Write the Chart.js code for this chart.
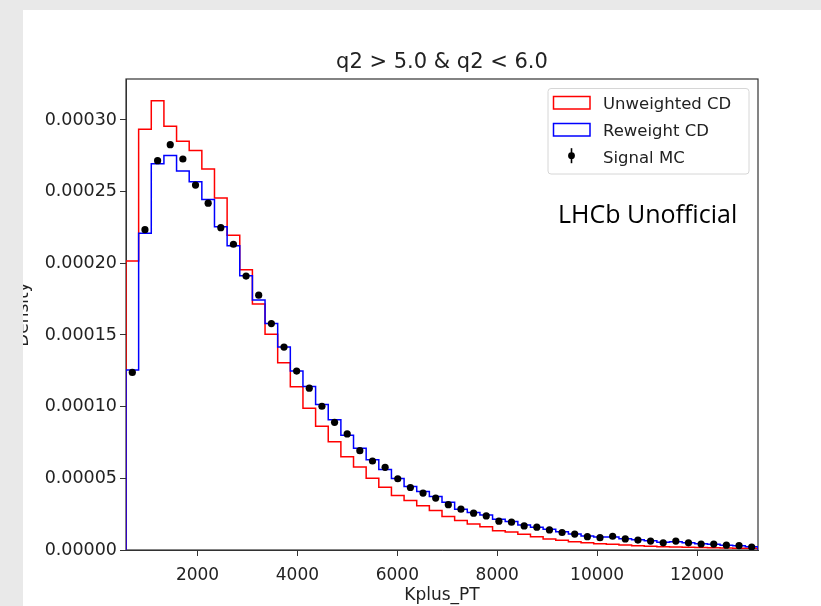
<!DOCTYPE html>
<html>
<head>
<meta charset="utf-8">
<script src="https://cdn.jsdelivr.net/npm/chart.js"></script>
<style>
  html, body { margin: 0; padding: 0; background: #e9e9e9; }
  #panel { position: absolute; left: 23px; top: 10px; width: 798px; height: 596px; background: #fff; overflow: hidden; }
  #chart { position: absolute; left: -23px; top: -10px; }
</style>
</head>
<body>
<div id="panel"><canvas id="chart" width="821" height="606"></canvas></div>
<script>
// histogram range and binning (Kplus_PT)
const xMin = 568;
const xMax = 13221;
const nBins = 50;
const yMax = 0.0003286;

// densities per bin
const unweightedCD = [
  2.016e-4, 2.935e-4, 3.134e-4, 2.956e-4, 2.851e-4, 2.788e-4, 2.658e-4, 2.455e-4, 2.196e-4, 1.955e-4,
  1.717e-4, 1.505e-4, 1.307e-4, 1.139e-4, 9.89e-5, 8.63e-5, 7.56e-5, 6.50e-5, 5.79e-5, 5.00e-5,
  4.37e-5, 3.80e-5, 3.45e-5, 3.08e-5, 2.75e-5, 2.33e-5, 2.05e-5, 1.82e-5, 1.63e-5, 1.35e-5,
  1.26e-5, 1.10e-5, 9.3e-6, 7.7e-6, 6.8e-6, 5.8e-6, 5.1e-6, 4.4e-6, 4.0e-6, 3.5e-6,
  3.0e-6, 2.6e-6, 2.3e-6, 2.1e-6, 1.9e-6, 1.7e-6, 1.5e-6, 1.4e-6, 1.3e-6, 1.2e-6
];
const reweightCD = [
  1.255e-4, 2.210e-4, 2.695e-4, 2.753e-4, 2.644e-4, 2.569e-4, 2.445e-4, 2.256e-4, 2.123e-4, 1.913e-4,
  1.745e-4, 1.580e-4, 1.416e-4, 1.248e-4, 1.141e-4, 1.015e-4, 9.08e-5, 8.00e-5, 7.10e-5, 6.30e-5,
  5.62e-5, 4.99e-5, 4.43e-5, 4.08e-5, 3.73e-5, 3.34e-5, 2.85e-5, 2.61e-5, 2.45e-5, 2.15e-5,
  1.98e-5, 1.75e-5, 1.59e-5, 1.45e-5, 1.27e-5, 1.12e-5, 9.8e-6, 9.0e-6, 9.0e-6, 7.9e-6,
  7.1e-6, 6.4e-6, 5.4e-6, 5.8e-6, 5.0e-6, 4.3e-6, 4.0e-6, 3.4e-6, 3.0e-6, 2.2e-6
];
const signalMC = [
  1.239e-4, 2.235e-4, 2.716e-4, 2.828e-4, 2.728e-4, 2.546e-4, 2.420e-4, 2.249e-4, 2.133e-4, 1.911e-4,
  1.778e-4, 1.580e-4, 1.416e-4, 1.248e-4, 1.129e-4, 1.003e-4, 8.91e-5, 8.10e-5, 6.93e-5, 6.21e-5,
  5.77e-5, 4.97e-5, 4.36e-5, 3.97e-5, 3.62e-5, 3.16e-5, 2.85e-5, 2.57e-5, 2.38e-5, 2.01e-5,
  1.94e-5, 1.68e-5, 1.59e-5, 1.40e-5, 1.22e-5, 1.11e-5, 9.3e-6, 8.6e-6, 9.6e-6, 7.7e-6,
  6.9e-6, 6.2e-6, 5.0e-6, 6.2e-6, 5.0e-6, 4.2e-6, 4.1e-6, 3.4e-6, 3.1e-6, 2.1e-6
];

const xTicks = [2000, 4000, 6000, 8000, 10000, 12000];
const yTicks = [0, 0.00005, 0.0001, 0.00015, 0.0002, 0.00025, 0.0003];

const binWidth = (xMax - xMin) / nBins;
const edges = [];
for (let i = 0; i <= nBins; i++) edges.push(xMin + i * binWidth);

// outline of a step histogram, dropping to zero at both ends
function stepOutline(values) {
  const pts = [{x: edges[0], y: 0}];
  values.forEach((v, i) => pts.push({x: edges[i], y: v}));
  pts.push({x: edges[nBins], y: values[nBins - 1]});
  pts.push({x: edges[nBins], y: 0});
  return pts;
}

const mcPoints = signalMC.map((v, i) => ({x: (edges[i] + edges[i + 1]) / 2, y: v}));

Chart.defaults.font.family = "'DejaVu Sans', sans-serif";
Chart.defaults.color = '#222';

const frame = {
  id: 'frame',
  beforeDatasetsDraw(chart) {
    const {ctx, chartArea: a} = chart;
    ctx.save();
    ctx.strokeStyle = '#333';
    ctx.lineWidth = 1.2;
    ctx.strokeRect(a.left, a.top, a.right - a.left, a.bottom - a.top);
    ctx.restore();
  }
};

const boxLegend = {
  id: 'boxLegend',
  afterDraw(chart) {
    const ctx = chart.ctx;
    const ds = chart.data.datasets;
    ctx.save();
    ctx.beginPath();
    ctx.roundRect(548, 88.5, 201, 85.5, 3);
    ctx.fillStyle = 'rgba(255,255,255,0.85)';
    ctx.fill();
    ctx.strokeStyle = '#d6d6d6';
    ctx.lineWidth = 1;
    ctx.stroke();

    const rows = [109, 136, 162.7];
    ctx.font = "16.5px 'DejaVu Sans'";
    ctx.textBaseline = 'alphabetic';
    ds.forEach((d, i) => {
      const base = rows[i];
      if (d.type === 'scatter') {
        ctx.strokeStyle = d.backgroundColor;
        ctx.lineWidth = 1.6;
        ctx.beginPath();
        ctx.moveTo(571.5, base - 14.5);
        ctx.lineTo(571.5, base + 0.5);
        ctx.stroke();
        ctx.fillStyle = d.backgroundColor;
        ctx.beginPath();
        ctx.arc(571.5, base - 7, 3.4, 0, Math.PI * 2);
        ctx.fill();
      } else {
        ctx.strokeStyle = d.borderColor;
        ctx.lineWidth = 1.5;
        ctx.strokeRect(553.5, base - 12.5, 36.5, 12.5);
      }
      ctx.fillStyle = '#222';
      ctx.fillText(d.label, 603, base);
    });

    ctx.fillStyle = '#000';
    ctx.font = "25px 'Open Sans'";
    ctx.fillText('LHCb Unofficial', 558, 222.7);
    ctx.restore();
  }
};

new Chart(document.getElementById('chart'), {
  type: 'line',
  data: {
    datasets: [
      {
        label: 'Unweighted CD',
        data: stepOutline(unweightedCD),
        borderColor: '#ff0000',
        borderWidth: 1.5,
        stepped: 'before',
        pointRadius: 0,
        fill: false,
        order: 3
      }, {
        label: 'Reweight CD',
        data: stepOutline(reweightCD),
        borderColor: '#0000ff',
        borderWidth: 1.5,
        stepped: 'before',
        pointRadius: 0,
        fill: false,
        order: 2
      }, {
        type: 'scatter',
        label: 'Signal MC',
        data: mcPoints,
        backgroundColor: '#000',
        borderColor: '#000',
        pointRadius: 3.6,
        borderWidth: 0,
        showLine: false,
        order: 1
      }
    ]
  },
  options: {
    responsive: false,
    animation: false,
    layout: { padding: { left: 0, right: 63, top: 0, bottom: 0 } },
    plugins: {
      legend: { display: false },
      tooltip: { enabled: false },
      title: {
        display: true,
        fullSize: false,
        text: 'q2 > 5.0 & q2 < 6.0',
        color: '#222',
        font: { size: 21, weight: 'normal' },
        padding: { top: 50.2, bottom: 3.6 }
      }
    },
    scales: {
      x: {
        type: 'linear',
        min: xMin,
        max: xMax,
        afterBuildTicks: s => { s.ticks = xTicks.map(v => ({value: v})); },
        afterFit: s => { s.height = 56; },
        ticks: { font: { size: 17 }, padding: 9, maxRotation: 0, callback: v => String(v) },
        grid: { display: true, drawOnChartArea: false, drawTicks: true, tickLength: 6, color: '#333' },
        border: { display: true, color: '#333' },
        title: { display: true, text: 'Kplus_PT', font: { size: 17 }, padding: { top: 0, bottom: 0 } }
      },
      y: {
        min: 0,
        max: yMax,
        afterBuildTicks: s => { s.ticks = yTicks.map(v => ({value: v})); },
        afterFit: s => { s.width = 126; },
        ticks: { font: { size: 17.5 }, padding: 3, callback: v => v.toFixed(5) },
        grid: { display: true, drawOnChartArea: false, drawTicks: true, tickLength: 6, color: '#333' },
        border: { display: true, color: '#333' },
        title: { display: true, text: 'Density', font: { size: 17 }, padding: { top: 13.7, bottom: 0 } }
      }
    }
  },
  plugins: [frame, boxLegend]
});
</script>
</body>
</html>
